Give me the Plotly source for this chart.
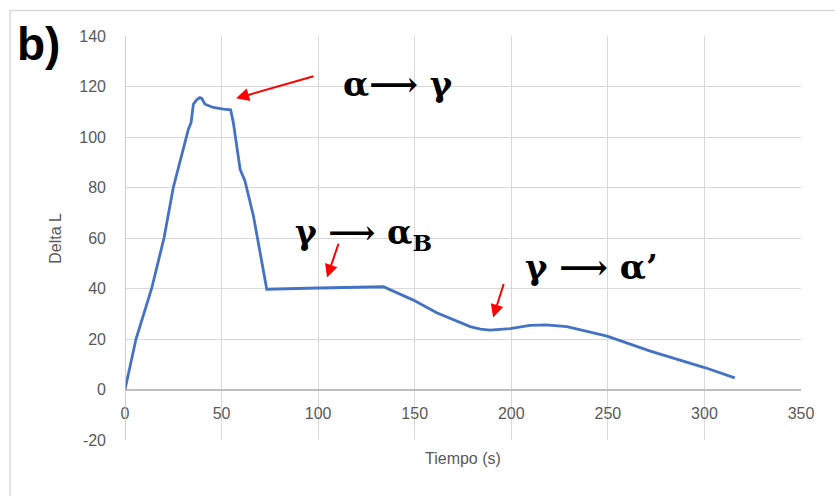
import plotly.graph_objects as go

# Data
tiempo = [0, 5.7, 13.8, 20.2, 25, 32, 32.8, 34.2, 35.4, 37.1, 38.8, 39.7, 41.4, 45.7,
          50.9, 54.7, 56.1, 59.6, 62.1, 66.5, 73.4, 100, 133.8, 149.3, 161.4, 178.7,
          184, 189, 199.4, 209.7, 218, 228.8, 249.6, 272, 300.5, 315.7]
delta_l = [0, 20, 40, 60, 80, 100, 103, 105.7, 113, 114.7, 115.6, 115.3, 113, 111.7,
           111, 110.8, 105.7, 87.2, 82.6, 68.7, 39.7, 40.2, 40.7, 35.4, 30.4, 24.9,
           23.9, 23.5, 24.1, 25.4, 25.6, 24.9, 21.1, 15.2, 8.6, 4.6]

x_ticks = [0, 50, 100, 150, 200, 250, 300, 350]
y_ticks = [-20, 0, 20, 40, 60, 80, 100, 120, 140]
y_ticktext = ["-20", "0", "20", "40", "60", "80", "100", "120", "140"]

# Annotation texts (label, text x, text y, size) and arrows (head x, head y, tail x, tail y)
labels = [
    ("<b>α⟶ γ</b>", 112, 121, 34),
    ("<b>γ ⟶ α<sub>B</sub></b>", 87, 61.5, 33),
    ("<b>γ ⟶ α’</b>", 206, 48.4, 34),
]
arrows = [
    (57.5, 115.3, 98.4, 124.2),
    (104.6, 44.4, 110.8, 58.3),
    (190.6, 28.5, 196.3, 42.4),
]

fig = go.Figure()
fig.add_trace(go.Scatter(x=tiempo, y=delta_l, mode="lines",
                         line=dict(color="#4472C4", width=2.8), showlegend=False,
                         hoverinfo="skip"))

grid = "#d9d9d9"
tickfont = dict(family="Liberation Sans, Arial", size=16, color="#595959")
serif = "DejaVu Serif, serif"

fig.update_layout(
    width=835, height=496,
    margin=dict(l=125, r=34, t=36, b=56, autoexpand=False),
    paper_bgcolor="white", plot_bgcolor="white",
    xaxis=dict(range=[0, 350], tickvals=x_ticks, showgrid=True, gridcolor=grid,
               gridwidth=1.3, zeroline=False, showline=False,
               anchor="free", position=0.125, ticks="", ticklabelstandoff=12,
               tickfont=tickfont, automargin=False),
    yaxis=dict(range=[-20, 140], tickvals=y_ticks, ticktext=y_ticktext, showgrid=True,
               gridcolor=grid, gridwidth=1.3, zeroline=True, zerolinecolor="#bfbfbf",
               zerolinewidth=1.5, showline=False, ticks="", ticklabelstandoff=18,
               tickfont=tickfont, automargin=False),
)

# axis titles
fig.add_annotation(text="Tiempo (s)", xref="paper", yref="paper", x=0.5, y=-0.045,
                   xanchor="center", yanchor="middle", showarrow=False, font=tickfont)
fig.add_annotation(text="Delta L", xref="paper", yref="paper", x=-0.104, y=0.5,
                   xanchor="center", yanchor="middle", textangle=-90, showarrow=False,
                   font=tickfont)

# left axis line at x=0
fig.add_shape(type="line", xref="x", yref="paper", x0=0, x1=0, y0=0, y1=1,
              line=dict(color="#bfbfbf", width=1.5))
# outer chart border
fig.add_shape(type="rect", xref="paper", yref="paper", x0=-0.170, x1=1.2, y0=-0.3, y1=1.063,
              line=dict(color="#d9d9d9", width=1.5), layer="below")

fig.add_annotation(text="<b>b)</b>", xref="paper", yref="paper", x=-0.162, y=0.98,
                   xanchor="left", yanchor="middle", showarrow=False,
                   font=dict(family="Liberation Sans, Arial", size=46, color="black"))

for txt, tx, ty, sz in labels:
    fig.add_annotation(text=txt, x=tx, y=ty, xanchor="left", yanchor="middle",
                       showarrow=False,
                       font=dict(family=serif, size=sz, color="black"))

for hx, hy, tx, ty in arrows:
    fig.add_annotation(x=hx, y=hy, ax=tx, ay=ty, axref="x", ayref="y", text="",
                       showarrow=True, arrowhead=2, arrowsize=1.3, arrowwidth=2,
                       arrowcolor="#ff0000")

fig.write_html("out.html")
